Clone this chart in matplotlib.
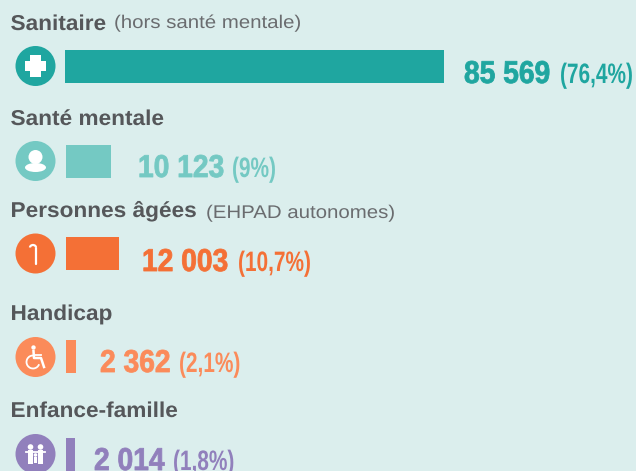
import matplotlib
matplotlib.use("Agg")
import matplotlib.pyplot as plt
from matplotlib.patches import Circle, Ellipse, Rectangle, Arc
from matplotlib.patheffects import AbstractPathEffect
from matplotlib.transforms import Affine2D

categories = ["Sanitaire", "Santé mentale", "Personnes âgées", "Handicap", "Enfance-famille"]
subtitles = ["(hors santé mentale)", "", "(EHPAD autonomes)", "", ""]
values = [85569, 10123, 12003, 2362, 2014]
value_labels = ["85 569", "10 123", "12 003", "2 362", "2 014"]
pct_labels = ["(76,4%)", "(9%)", "(10,7%)", "(2,1%)", "(1,8%)"]
colors = ["#1FA6A0", "#74C9C3", "#F47036", "#FB8B5A", "#9180BC"]

BG = "#DBEEED"
W, H = 636, 471
px_per_unit = 379 / 85569  # bar scale, sanitaire bar is 379 px wide

# layout in pixels, one entry per row
bar_y = [66.5, 161.5, 253.5, 356.5, 454.5]
bar_x0 = [65, 66, 66, 66, 66]
icon_y = [66, 161, 253.5, 357, 454]
label_y = [30, 125, 217, 320, 417]
sub_x = [114, 0, 206, 0, 0]
sub_y = [28, 0, 218, 0, 0]
num_x = [464, 138, 142, 100, 94]
pct_x = [560, 232, 238, 179, 173]
text_y = [83, 177, 271, 372, 470]


class StretchY(AbstractPathEffect):
    # no condensed font here, so make the glyphs taller instead
    def __init__(self, sy, lw=0):
        super().__init__()
        self.sy = sy
        self.lw = lw

    def draw_path(self, renderer, gc, tpath, affine, rgbFace=None):
        if self.lw:
            gc.set_linewidth(self.lw)
            gc.set_foreground(rgbFace)
        renderer.draw_path(gc, tpath, Affine2D().scale(1, self.sy) + affine, rgbFace)


fig = plt.figure(figsize=(6.36, 4.71), dpi=100, facecolor=BG)

# bars in data units
ax = fig.add_axes([0, 0, 1, 1], facecolor="none")
ax.set_xlim(-66 / px_per_unit, (W - 66) / px_per_unit)
ax.set_ylim(H, 0)
ax.axis("off")
ax.barh(bar_y, values, height=33, color=colors,
        left=[(x - 66) / px_per_unit for x in bar_x0])

# overlay in pixels for text and icons
ov = fig.add_axes([0, 0, 1, 1], facecolor="none")
ov.set_xlim(0, W)
ov.set_ylim(H, 0)
ov.set_aspect("equal")
ov.axis("off")

LABEL = "#55575A"
SUB = "#6A6C6F"
for i in range(5):
    ov.text(10.5, label_y[i], categories[i], family="Liberation Sans", weight="bold",
            fontsize=16.3, color=LABEL, va="baseline", path_effects=[StretchY(0.95)])
    if subtitles[i]:
        ov.text(sub_x[i], sub_y[i], subtitles[i], family="Liberation Sans",
                fontsize=14.7, color=SUB, va="baseline", path_effects=[StretchY(0.9)])
    ov.text(num_x[i], text_y[i], value_labels[i], family="Liberation Sans",
            weight="bold", fontsize=20.3, color=colors[i], va="baseline",
            path_effects=[StretchY(1.12, lw=0.6)])
    ov.text(pct_x[i], text_y[i], pct_labels[i], family="Liberation Sans",
            weight="bold", fontsize=15, color=colors[i], va="baseline",
            path_effects=[StretchY(1.35)])
    ov.add_patch(Circle((35.5, icon_y[i]), 20, color=colors[i], lw=0))

# cross
cy = icon_y[0]
ov.add_patch(Rectangle((25, cy - 5), 21, 10, color="white", lw=0))
ov.add_patch(Rectangle((30, cy - 11), 11, 22, color="white", lw=0))

# person
cy = icon_y[1]
ov.add_patch(Circle((35.5, cy - 4), 7, color="white", lw=0))
ov.add_patch(Ellipse((35.5, cy + 6.5), 21, 9, color="white", lw=0))

# cane
cy = icon_y[2]
ov.plot([36, 36], [cy - 6, cy + 10.5], color="white", lw=1.6, solid_capstyle="round")
ov.add_patch(Arc((33, cy - 6), 6, 5, theta1=180, theta2=360, color="white", lw=1.6))

# wheelchair
cy = icon_y[3]
ov.add_patch(Circle((33.5, cy - 9.5), 2.2, color="white", lw=0))
ov.plot([33.5, 34, 41, 44], [cy - 6, cy + 1, cy + 1, cy + 10], color="white", lw=1.8)
ov.plot([34, 41], [cy - 2, cy - 2], color="white", lw=1.3)
ov.add_patch(Arc((33, cy + 5), 13, 13, theta1=20, theta2=270, color="white", lw=1.3))

# family
cy = icon_y[4]
for fx, fy, r, h, w in [(30.5, cy - 7, 2.8, 19, 5.5), (40.5, cy - 7, 2.8, 19, 5.5), (35.5, cy + 1, 1.8, 9, 3.5)]:
    ov.add_patch(Circle((fx, fy), r, color="white", lw=0))
    ov.add_patch(Rectangle((fx - w / 2, fy + r + 0.6), w, h - r * 2, color="white", lw=0))
ov.plot([26, 45], [cy - 2, cy - 2], color="white", lw=1.3)

fig.savefig("out.png", dpi=100, facecolor=BG)
